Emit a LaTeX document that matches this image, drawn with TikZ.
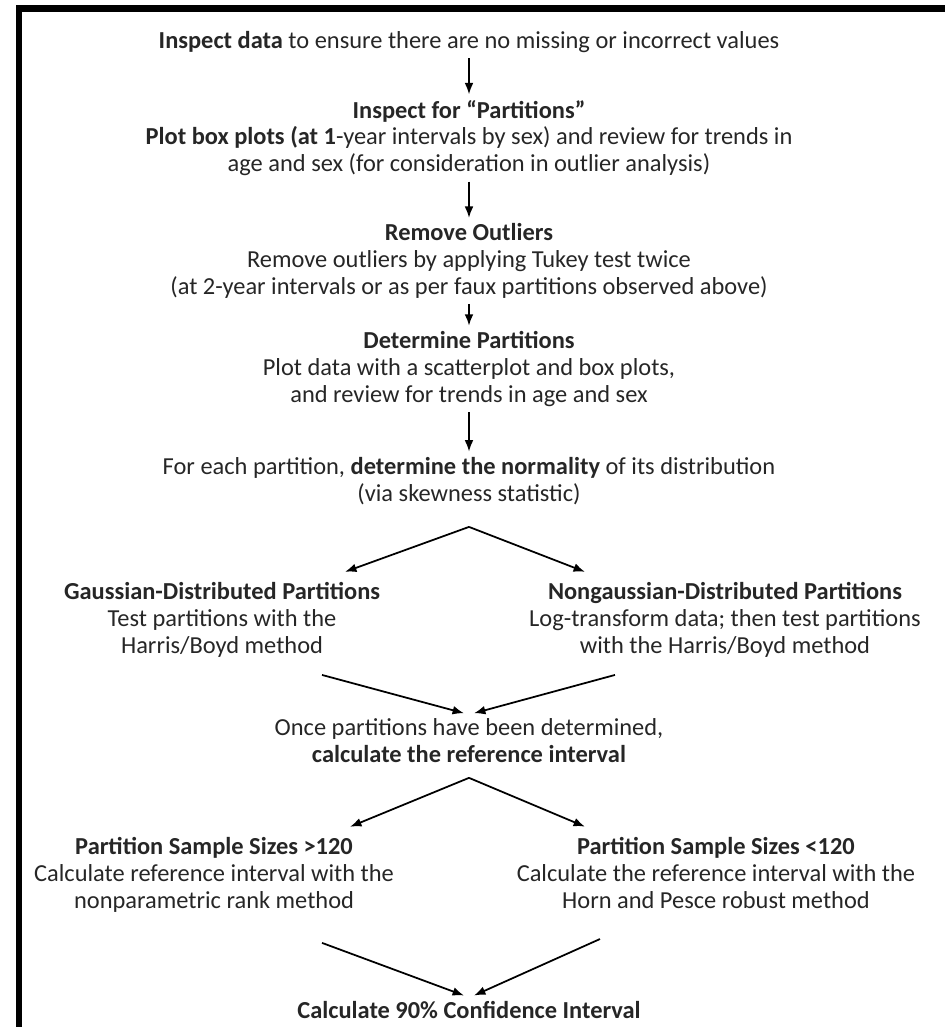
\documentclass[tikz,border=0pt]{standalone}
\usepackage{fontspec}
\setmainfont{Carlito}
\usetikzlibrary{arrows.meta,positioning}

\begin{document}
\begin{tikzpicture}[x=0.02cm,y=-0.02cm,on grid,
    font={\fontsize{13.9pt}{15.3pt}\selectfont},
    stage/.style={align=center,inner xsep=0pt,inner ysep=3pt,text=black!85},
    flow/.style={-{Latex[length=6.5pt,width=5pt]},line width=1pt}]
  \useasboundingbox (0,0) rectangle (945,1027);
  \draw[line width=0.14cm] (19,1027) |- (945,8.5);
  % main column
  \node[stage] (data) at (469,42)
       {\textbf{Inspect data} to ensure there are no missing or incorrect values};
  \node[stage,below=1.92cm of data] (parts)
       {\textbf{Inspect for ``Partitions''}\\ \textbf{Plot box plots (at 1}-year intervals by sex) and review for trends in\\ age and sex (for consideration in outlier analysis)};
  \node[stage,below=2.46cm of parts] (outl)
       {\textbf{Remove Outliers}\\ Remove outliers by applying Tukey test twice\\ (at 2-year intervals or as per faux partitions observed above)};
  \node[stage,below=2.16cm of outl] (detpart)
       {\textbf{Determine Partitions}\\ Plot data with a scatterplot and box plots,\\ and review for trends in age and sex};
  \node[stage,below=2.24cm of detpart] (normal)
       {For each partition, \textbf{determine the normality} of its distribution\\ (via skewness statistic)};
  % first split
  \coordinate[below=0.92cm of normal] (fork1);
  \node[stage,below left=2.78cm and 4.94cm of normal] (gauss)
       {\textbf{Gaussian-Distributed Partitions}\\ Test partitions with the\\ Harris/Boyd method};
  \node[stage,below right=2.78cm and 5.12cm of normal] (nongauss)
       {\textbf{Nongaussian-Distributed Partitions}\\ Log-transform data; then test partitions\\ with the Harris/Boyd method};
  \node[stage,below=5.2cm of normal] (calcri)
       {Once partitions have been determined,\\ \textbf{calculate the reference interval}};
  % second split
  \coordinate[below=0.74cm of calcri] (fork2);
  \node[stage,below left=2.68cm and 5.1cm of calcri] (large)
       {\textbf{Partition Sample Sizes >120}\\ Calculate reference interval with the\\ nonparametric rank method};
  \node[stage,below right=2.64cm and 4.94cm of calcri] (small)
       {\textbf{Partition Sample Sizes <120}\\ Calculate the reference interval with the\\ Horn and Pesce robust method};
  \node[stage,below=5.38cm of calcri] (ci) {\textbf{Calculate 90\% Confidence Interval}};
  % connectors
  \draw[flow] (data) -- (parts);
  \draw[flow] (parts) -- (outl);
  \draw[flow] (outl) -- (detpart);
  \draw[flow] (detpart) -- (normal);
  \draw[flow] (fork1) -- ([xshift=2.46cm,yshift=0.1cm]gauss.north);
  \draw[flow] (fork1) -- ([xshift=-2.8cm,yshift=0.1cm]nongauss.north);
  \draw[flow] ([xshift=2cm,yshift=-0.24cm]gauss.south) -- ([xshift=-0.1cm]calcri.north);
  \draw[flow] ([xshift=-2.2cm,yshift=-0.24cm]nongauss.south) -- ([xshift=0.1cm]calcri.north);
  \draw[flow] (fork2) -- ([xshift=2.72cm,yshift=0.1cm]large.north);
  \draw[flow] (fork2) -- ([xshift=-2.62cm,yshift=0.1cm]small.north);
  \draw[flow] ([xshift=2.16cm,yshift=-0.5cm]large.south) -- ([xshift=-0.1cm]ci.north);
  \draw[flow] ([xshift=-2.32cm,yshift=-0.5cm]small.south) -- ([xshift=0.1cm]ci.north);
\end{tikzpicture}
\end{document}
